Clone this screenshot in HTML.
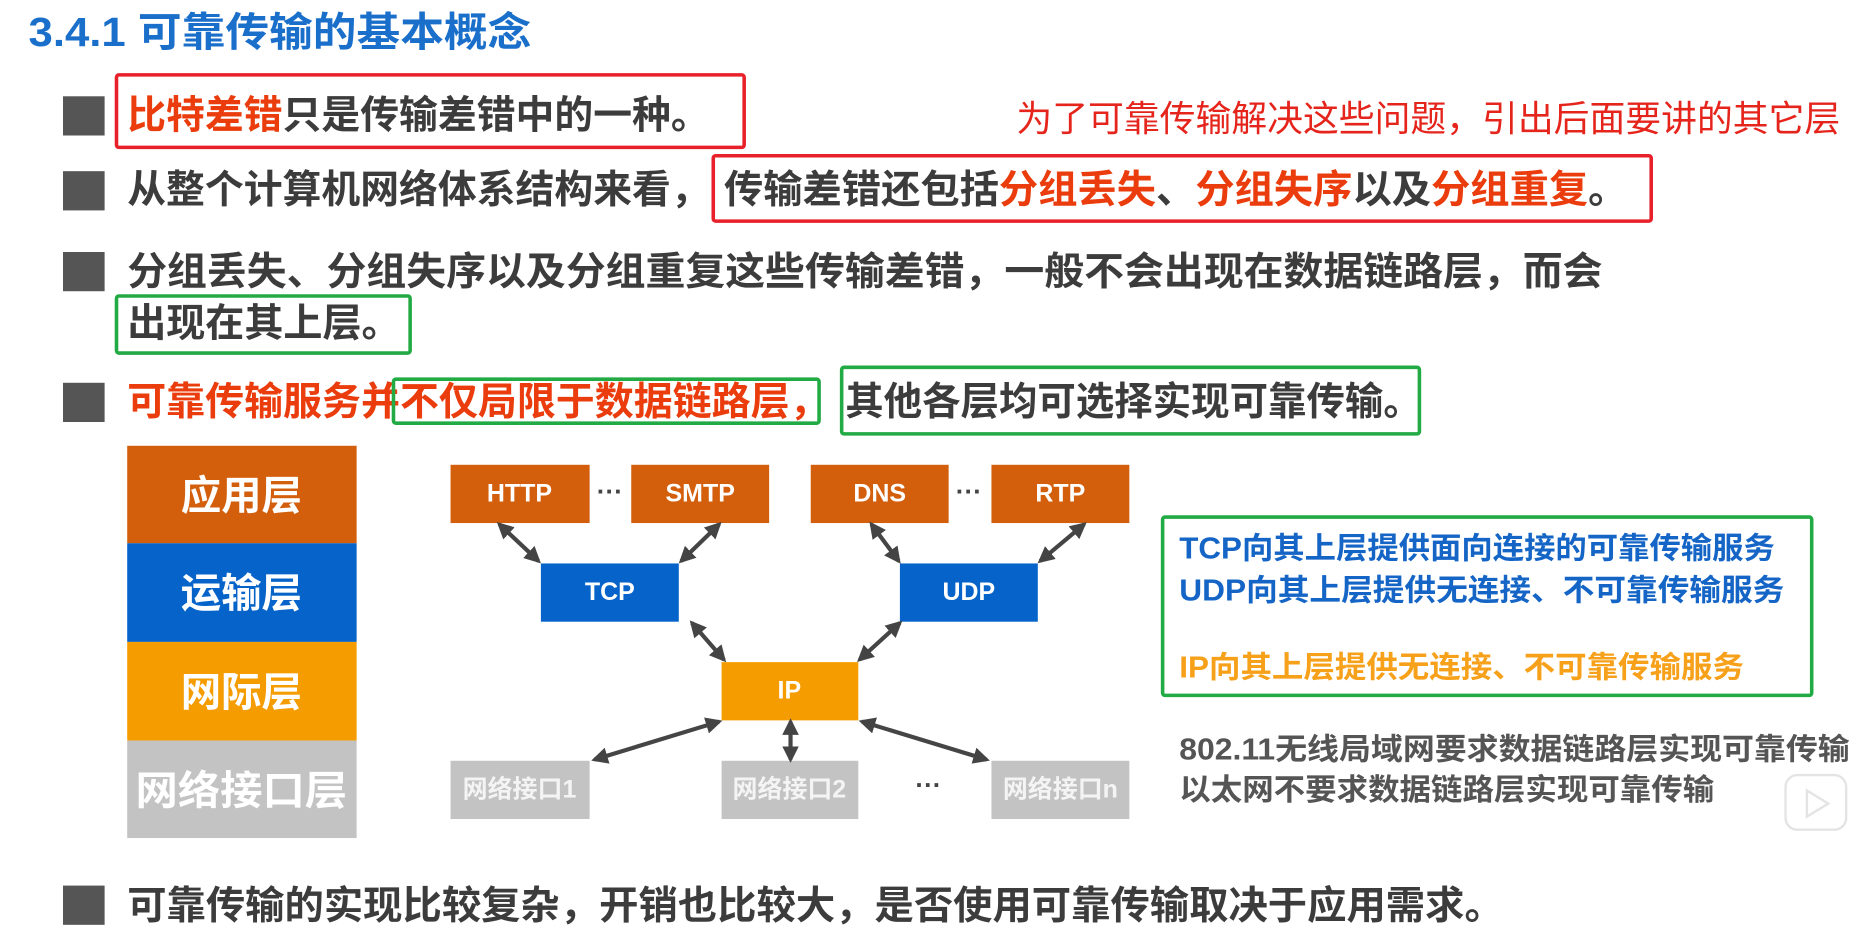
<!DOCTYPE html>
<html><head><meta charset="utf-8"><style>
html,body{margin:0;padding:0;background:#fff;}
svg{display:block;}
text{font-family:"Liberation Sans","Noto Sans CJK SC",sans-serif;font-weight:bold;dominant-baseline:central;}
</style></head><body>
<svg width="1864" height="936" viewBox="0 0 1568 787.4" preserveAspectRatio="none" xmlns="http://www.w3.org/2000/svg">
<defs>
<marker id="ah" viewBox="0 0 10 10" refX="8" refY="5" markerWidth="4" markerHeight="4" orient="auto-start-reverse">
<path d="M0,0 L10,5 L0,10 z" fill="#444"/>
</marker>
</defs>
<rect width="1568" height="788" fill="#fff"/>
<text x="24" y="27" font-size="34" fill="#1a6fcb" textLength="423" lengthAdjust="spacingAndGlyphs">3.4.1 可靠传输的基本概念</text>

<g fill="#555">
<rect x="53" y="81" width="35" height="33"/>
<rect x="53" y="144" width="35" height="33"/>
<rect x="53" y="212" width="35" height="33"/>
<rect x="53" y="322" width="35" height="33"/>
<rect x="53" y="745" width="35" height="33"/>
</g>

<g font-size="33" fill="#3c3c3c">
<text x="107" y="97" textLength="490" lengthAdjust="spacingAndGlyphs"><tspan fill="#ea3c0c">比特差错</tspan>只是传输差错中的一种。</text>
<text x="107" y="160" textLength="490" lengthAdjust="spacingAndGlyphs">从整个计算机网络体系结构来看，</text>
<text x="609" y="160" textLength="760" lengthAdjust="spacingAndGlyphs">传输差错还包括<tspan fill="#ea3c0c">分组丢失</tspan>、<tspan fill="#ea3c0c">分组失序</tspan>以及<tspan fill="#ea3c0c">分组重复</tspan>。</text>
<text x="107" y="229" textLength="1241" lengthAdjust="spacingAndGlyphs">分组丢失、分组失序以及分组重复这些传输差错，一般不会出现在数据链路层，而会</text>
<text x="107" y="272" textLength="230" lengthAdjust="spacingAndGlyphs">出现在其上层。</text>
<text x="107" y="338" fill="#ea3c0c" textLength="590" lengthAdjust="spacingAndGlyphs">可靠传输服务并不仅局限于数据链路层，</text>
<text x="711" y="338" textLength="485" lengthAdjust="spacingAndGlyphs">其他各层均可选择实现可靠传输。</text>
<text x="107" y="762" textLength="1158" lengthAdjust="spacingAndGlyphs">可靠传输的实现比较复杂，开销也比较大，是否使用可靠传输取决于应用需求。</text>
</g>

<text x="855" y="100" font-size="30" style="font-weight:normal" fill="#e5241c" textLength="693" lengthAdjust="spacingAndGlyphs">为了可靠传输解决这些问题，引出后面要讲的其它层</text>

<g fill="none" stroke-width="3">
<rect x="98" y="63" width="528" height="61" stroke="#e8202a" rx="2"/>
<rect x="600" y="131" width="789" height="55" stroke="#e8202a" rx="2"/>
<rect x="98" y="249" width="247" height="48" stroke="#22aa44" rx="2"/>
<rect x="331" y="319" width="358" height="37" stroke="#22aa44" rx="2"/>
<rect x="708" y="309" width="486" height="56" stroke="#22aa44" rx="2"/>
<rect x="978" y="435" width="546" height="150" stroke="#22aa44" rx="2"/>
</g>

<rect x="107" y="375" width="193" height="82" fill="#d35f0d"/>
<rect x="107" y="457" width="193" height="83" fill="#0563c9"/>
<rect x="107" y="540" width="193" height="83" fill="#f59c00"/>
<rect x="107" y="623" width="193" height="82" fill="#c3c3c3"/>
<g font-size="34" fill="#fff" text-anchor="middle">
<text x="203" y="417">应用层</text>
<text x="203" y="499">运输层</text>
<text x="203" y="582">网际层</text>
<text x="203" y="665" textLength="178" lengthAdjust="spacingAndGlyphs">网络接口层</text>
</g>

<g>
<rect x="379" y="391" width="117" height="49" fill="#d35f0d"/>
<rect x="531" y="391" width="116" height="49" fill="#d35f0d"/>
<rect x="682" y="391" width="116" height="49" fill="#d35f0d"/>
<rect x="834" y="391" width="116" height="49" fill="#d35f0d"/>
<rect x="455" y="474" width="116" height="49" fill="#0563c9"/>
<rect x="757" y="474" width="116" height="49" fill="#0563c9"/>
<rect x="607" y="557" width="115" height="49" fill="#f59c00"/>
<rect x="379" y="640" width="117" height="49" fill="#c3c3c3"/>
<rect x="607" y="640" width="115" height="49" fill="#c3c3c3"/>
<rect x="834" y="640" width="116" height="49" fill="#c3c3c3"/>
</g>
<g font-size="21" fill="#fff" text-anchor="middle">
<text x="437" y="415">HTTP</text>
<text x="589" y="415">SMTP</text>
<text x="740" y="415">DNS</text>
<text x="892" y="415">RTP</text>
<text x="513" y="498">TCP</text>
<text x="815" y="498">UDP</text>
<text x="664" y="581">IP</text>
<text x="437" y="664" fill="#f4f4f4">网络接口1</text>
<text x="664" y="664" fill="#f4f4f4">网络接口2</text>
<text x="892" y="664" fill="#f4f4f4">网络接口n</text>
</g>
<g font-size="22" fill="#444" text-anchor="middle">
<text x="513" y="413">···</text>
<text x="815" y="413">···</text>
<text x="781" y="660">···</text>
</g>

<g stroke="#454545" stroke-width="3.5" marker-start="url(#ah)" marker-end="url(#ah)">
<line x1="420" y1="441" x2="453" y2="472"/>
<line x1="605" y1="441" x2="573" y2="472"/>
<line x1="733" y1="441" x2="756" y2="472"/>
<line x1="912" y1="441" x2="875" y2="472"/>
<line x1="582" y1="524" x2="609" y2="555"/>
<line x1="757" y1="524" x2="723" y2="555"/>
<line x1="605" y1="607" x2="500" y2="639"/>
<line x1="665" y1="607" x2="665" y2="639"/>
<line x1="725" y1="607" x2="830" y2="639"/>
</g>

<g font-size="25.5">
<text x="992" y="462" fill="#1565c6" textLength="501" lengthAdjust="spacingAndGlyphs">TCP向其上层提供面向连接的可靠传输服务</text>
<text x="992" y="497" fill="#1565c6" textLength="509" lengthAdjust="spacingAndGlyphs">UDP向其上层提供无连接、不可靠传输服务</text>
<text x="992" y="562" fill="#f7a019" textLength="475" lengthAdjust="spacingAndGlyphs">IP向其上层提供无连接、不可靠传输服务</text>
<text x="992" y="631" fill="#555" textLength="564" lengthAdjust="spacingAndGlyphs">802.11无线局域网要求数据链路层实现可靠传输</text>
<text x="992" y="665" fill="#555" textLength="450" lengthAdjust="spacingAndGlyphs">以太网不要求数据链路层实现可靠传输</text>
</g>

<rect x="1502" y="652" width="51" height="46" rx="10" fill="none" stroke="#e4e4e4" stroke-width="2"/>
<path d="M1520,665 L1538,676 L1520,687 z" fill="none" stroke="#e4e4e4" stroke-width="2"/>
</svg>
</body></html>
